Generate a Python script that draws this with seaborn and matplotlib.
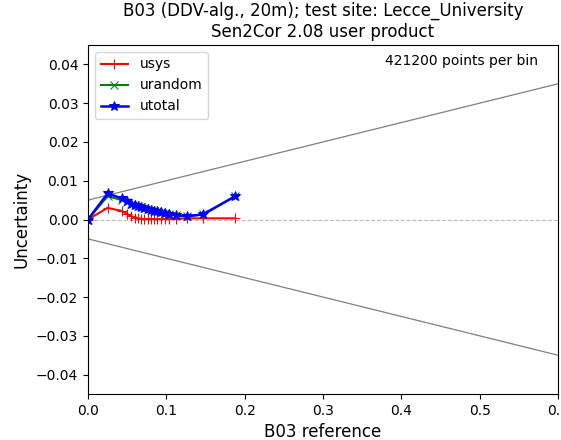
import numpy as np
import pandas as pd
import matplotlib
matplotlib.use("Agg")
import matplotlib.pyplot as plt
import seaborn as sns

# Data
x_ref = [0.0, 0.025, 0.043, 0.050, 0.055, 0.060, 0.064, 0.068, 0.072, 0.076,
         0.080, 0.084, 0.088, 0.093, 0.098, 0.104, 0.112, 0.127, 0.147, 0.188]
usys = [0.0, 0.0030, 0.0022, 0.0014, 0.0009, 0.0005, 0.0003, 0.0002, 0.0001, 0.0001,
        0.0001, 0.0001, 0.0001, 0.0001, 0.0001, 0.0002, 0.0002, 0.0003, 0.0003, 0.0003]
urandom = [0.0, 0.0060, 0.0050, 0.0045, 0.0040, 0.0037, 0.0034, 0.0031, 0.0029, 0.0027,
           0.0025, 0.0023, 0.0021, 0.0019, 0.0017, 0.0015, 0.0011, 0.0008, 0.0013, 0.0060]
utotal = list(np.sqrt(np.array(usys) ** 2 + np.array(urandom) ** 2))

band_x = [0.0, 0.6]
band_upper = [0.005, 0.035]
band_lower = [-0.005, -0.035]

title = "B03 (DDV-alg., 20m); test site: Lecce_University\nSen2Cor 2.08 user product"
note = "421200 points per bin"

fig = plt.figure(figsize=(5.61, 4.40), dpi=100)
ax = fig.add_axes([88 / 561, 1 - 394 / 440, (558 - 88) / 561, (394 - 45) / 440])

sns.lineplot(x=band_x, y=band_upper, ax=ax, color="gray", lw=0.9, legend=False)
sns.lineplot(x=band_x, y=band_lower, ax=ax, color="gray", lw=0.9, legend=False)
ax.axhline(0, color="#bbbbbb", lw=0.8, ls="--")

sns.lineplot(x=x_ref, y=usys, ax=ax, color="red", marker="+", markersize=7,
             markeredgecolor="red", lw=1.5, sort=False, label="usys")
sns.lineplot(x=x_ref, y=urandom, ax=ax, color="green", marker="x", markersize=6,
             markeredgecolor="green", lw=1.5, sort=False, label="urandom")
sns.lineplot(x=x_ref, y=utotal, ax=ax, color="blue", marker="*", markersize=7,
             markeredgecolor="blue", lw=1.8, sort=False, label="utotal")

ax.set_xlim(0, 0.6)
ax.set_ylim(-0.045, 0.045)
ax.set_xticks([0.0, 0.1, 0.2, 0.3, 0.4, 0.5, 0.6])
ax.set_yticks([-0.04, -0.03, -0.02, -0.01, 0.0, 0.01, 0.02, 0.03, 0.04])
ax.set_xlabel("B03 reference", fontsize=12)
ax.set_ylabel("Uncertainty", fontsize=12)
ax.set_title(title, fontsize=12)
ax.text(0.957, 0.955, note, transform=ax.transAxes, ha="right", va="center", fontsize=10)
ax.legend(loc="upper left", fontsize=10)

fig.savefig("out.png", dpi=100)
